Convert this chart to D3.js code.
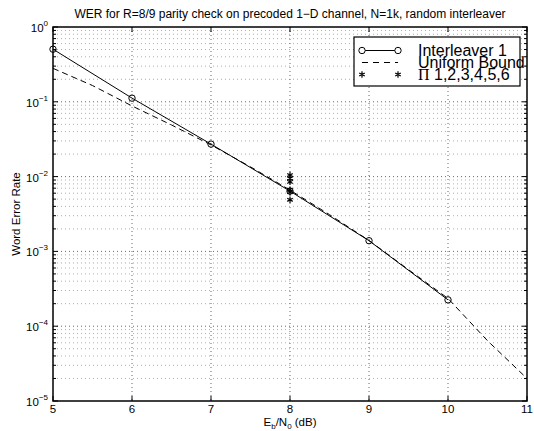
<!DOCTYPE html>
<html><head><meta charset="utf-8">
<script src="https://cdn.jsdelivr.net/npm/d3@7"></script>
<style>body{margin:0;background:#fff}svg{display:block}text{font-family:"Liberation Sans",Arial,sans-serif}</style>
</head><body>
<svg id="c" width="534" height="431"></svg>
<script>
const titleText = "WER for R=8/9 parity check on precoded 1\u2212D channel, N=1k, random interleaver";
const xTicks = [5, 6, 7, 8, 9, 10, 11];
const yExps = [0, -1, -2, -3, -4, -5];
// Interleaver 1 (solid with circles)
const ilvX = [5, 6, 7, 8, 9, 10];
const ilvY = [0.505, 0.112, 0.0272, 0.0064, 0.00139, 0.000225];
// Uniform bound (dashed)
const ubX = [5, 5.5, 6, 6.5, 7, 7.5, 8, 8.5, 9, 9.5, 10, 10.5, 11];
const ubY = [0.28, 0.165, 0.088, 0.049, 0.0265, 0.0135, 0.0066, 0.0031, 0.0014, 0.00057, 0.000235, 0.000064, 0.00002];
// Pi 1..6 (stars at Eb/N0 = 8)
const piX = [8, 8, 8, 8, 8, 8];
const piY = [0.0105, 0.0095, 0.0085, 0.0067, 0.0062, 0.0049];
const legendLabels = ["Interleaver 1", "Uniform Bound", "\u03A0 1,2,3,4,5,6"];

const L = 53, R = 527, T = 27, B = 401;
const svg = d3.select("#c");
const x = d3.scaleLinear().domain([5, 11]).range([L, R]);
const y = d3.scaleLog().domain([1e-5, 1]).range([B, T]);

// grid
const g = svg.append("g");
xTicks.slice(1, -1).forEach(v => {
  g.append("line").attr("x1", x(v)).attr("x2", x(v)).attr("y1", T).attr("y2", B)
    .attr("stroke", "#000").attr("stroke-width", 0.6).attr("stroke-dasharray", "1,3");
});
for (let e = -5; e < 0; e++) {
  for (let m = 1; m <= 9; m++) {
    const v = m * Math.pow(10, e);
    if (e === -5 && m === 1) continue;
    g.append("line").attr("x1", L).attr("x2", R).attr("y1", y(v)).attr("y2", y(v))
      .attr("stroke", m === 1 ? "#000" : "#777").attr("stroke-width", 0.6).attr("stroke-dasharray", "1,3");
  }
}

// ticks
const tk = svg.append("g").attr("stroke", "#000").attr("stroke-width", 1);
xTicks.forEach(v => {
  tk.append("line").attr("x1", x(v)).attr("x2", x(v)).attr("y1", B).attr("y2", B - 5);
  tk.append("line").attr("x1", x(v)).attr("x2", x(v)).attr("y1", T).attr("y2", T + 5);
});
for (let e = -5; e <= 0; e++) {
  for (let m = 1; m <= 9; m++) {
    if (e === 0 && m > 1) continue;
    const v = m * Math.pow(10, e);
    const len = m === 1 ? 5 : 3;
    tk.append("line").attr("x1", L).attr("x2", L + len).attr("y1", y(v)).attr("y2", y(v));
    tk.append("line").attr("x1", R).attr("x2", R - len).attr("y1", y(v)).attr("y2", y(v));
  }
}

// frame
svg.append("rect").attr("x", L).attr("y", T).attr("width", R - L).attr("height", B - T)
  .attr("fill", "none").attr("stroke", "#000").attr("stroke-width", 1.5);

// tick labels
xTicks.forEach(v => {
  svg.append("text").attr("x", x(v)).attr("y", 413).attr("text-anchor", "middle")
    .attr("font-size", 11.5).text(v);
});
yExps.forEach(e => {
  const t = svg.append("text").attr("x", 48).attr("y", y(Math.pow(10, e)) + 5)
    .attr("text-anchor", "end").attr("font-size", 11.5);
  t.append("tspan").text("10");
  t.append("tspan").attr("dy", -6).attr("font-size", 8).text(e === 0 ? "0" : "\u2212" + (-e));
});

// axis labels and title
svg.append("text").attr("x", 290).attr("y", 18).attr("text-anchor", "middle")
  .attr("font-size", 12).text(titleText);
svg.append("text").attr("transform", "translate(20,214) rotate(-90)").attr("text-anchor", "middle")
  .attr("font-size", 11.5).text("Word Error Rate");
const xl = svg.append("text").attr("x", 290).attr("y", 426).attr("text-anchor", "middle").attr("font-size", 11.5);
xl.append("tspan").text("E");
xl.append("tspan").attr("dy", 3).attr("font-size", 8).text("b");
xl.append("tspan").attr("dy", -3).text("/N");
xl.append("tspan").attr("dy", 3).attr("font-size", 8).text("0");
xl.append("tspan").attr("dy", -3).text(" (dB)");

// series
const line = d3.line().x(d => x(d[0])).y(d => y(d[1]));
const ub = ubX.map((v, i) => [v, ubY[i]]);
const il = ilvX.map((v, i) => [v, ilvY[i]]);
svg.append("path").attr("d", line(ub)).attr("fill", "none").attr("stroke", "#000")
  .attr("stroke-width", 1).attr("stroke-dasharray", "6,4");
svg.append("path").attr("d", line(il)).attr("fill", "none").attr("stroke", "#000").attr("stroke-width", 1);
svg.selectAll(".ci").data(il).enter().append("circle").attr("cx", d => x(d[0])).attr("cy", d => y(d[1]))
  .attr("r", 3.2).attr("fill", "none").attr("stroke", "#000").attr("stroke-width", 1);
const star = d3.symbol().type(d3.symbolAsterisk).size(28);
svg.selectAll(".st").data(piX.map((v, i) => [v, piY[i]])).enter().append("path")
  .attr("d", star).attr("transform", d => `translate(${x(d[0])},${y(d[1])})`)
  .attr("fill", "none").attr("stroke", "#000").attr("stroke-width", 1.2);

// legend
const lg = svg.append("g");
lg.append("rect").attr("x", 354).attr("y", 37).attr("width", 166).attr("height", 49)
  .attr("fill", "#fff").attr("stroke", "#000").attr("stroke-width", 1.2);
const rows = [50.5, 62.5, 74.5];
const sx1 = 362, sx2 = 398;
lg.append("line").attr("x1", sx1).attr("x2", sx2).attr("y1", rows[0]).attr("y2", rows[0]).attr("stroke", "#000");
[sx1, sx2].forEach(v => lg.append("circle").attr("cx", v).attr("cy", rows[0]).attr("r", 3.2)
  .attr("fill", "#fff").attr("stroke", "#000"));
lg.append("line").attr("x1", sx1).attr("x2", sx2).attr("y1", rows[1]).attr("y2", rows[1]).attr("stroke", "#000")
  .attr("stroke-dasharray", "6,5");
[sx1, sx2].forEach(v => lg.append("path").attr("d", star).attr("transform", `translate(${v},${rows[2]})`)
  .attr("fill", "none").attr("stroke", "#000").attr("stroke-width", 1.2));
legendLabels.forEach((s, i) => {
  const t = lg.append("text").attr("x", 418).attr("y", rows[i] + 5.5).attr("font-size", 16);
  if (i === 2) {
    t.append("tspan").attr("font-family", "Liberation Serif").text(s[0]);
    t.append("tspan").text(s.slice(1));
  } else t.text(s);
});
</script>
</body></html>
